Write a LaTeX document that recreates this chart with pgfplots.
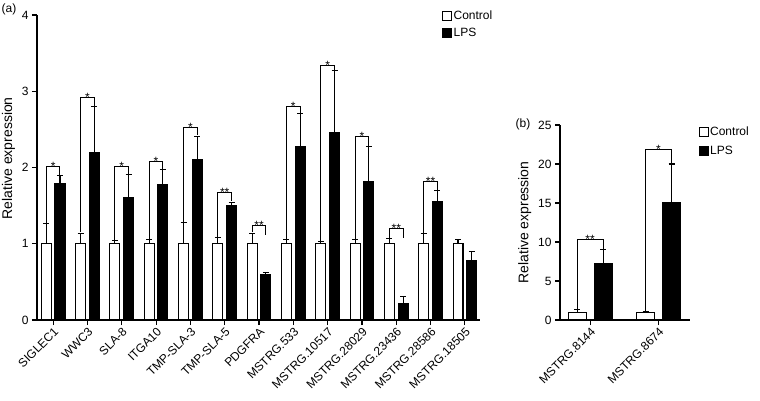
\documentclass[border=0pt]{standalone}
\usepackage{pgfplots}
\pgfplotsset{compat=1.18}
\usepackage{pgfplotstable}
\usepackage{fontspec}
\setmainfont{Liberation Sans}
\pgfplotstableread{
x c ce l le
0 1 0.26 1.79 0.10
1 1 0.14 2.19 0.61
2 1 0.04 1.60 0.31
3 1 0.05 1.77 0.20
4 1 0.28 2.11 0.30
5 1 0.08 1.50 0.04
6 1 0.14 0.59 0.03
7 1 0.05 2.27 0.44
8 1 0.03 2.46 0.81
9 1 0.05 1.82 0.45
10 1 0.07 0.21 0.10
11 1 0.13 1.55 0.15
12 1 0.06 0.78 0.12
}\lefttab
\pgfplotstableread{
x c ce l le
0 1 0.30 7.20 1.80
1 1 0.10 15.05 4.95
}\righttab
\tikzset{st/.style={anchor=base, yshift=-4pt, font=\fontsize{12}{14}\selectfont, inner sep=0pt}}
\pgfplotsset{
  mystyle/.style={
    scale only axis,
    axis x line*=bottom, axis y line*=left,
    axis line style={line width=1.1pt,-},
    tick align=outside,
    major tick length=5pt,
    every tick/.style={black, line width=1.1pt},
    ticklabel style={font=\fontsize{12}{14}\selectfont},
    xticklabel style={rotate=45, anchor=north east, inner sep=1pt},
    ylabel style={font=\fontsize{14}{16}\selectfont},
    ylabel={Relative expression},
    /pgf/number format/assume math mode=true,
    clip=false,
    legend style={draw=none, fill=none, anchor=north west, inner sep=0pt,
      row sep=5pt, font=\fontsize{12}{14}\selectfont,
      nodes={inner sep=1.5pt},
      /tikz/every even column/.style={column sep=4pt}},
    legend cell align=left,
    legend image code/.code={\draw[#1, line width=1pt] (0pt,-4.5pt) rectangle (9pt,4.5pt);},
  },
  myerr/.style={
    error bars/y dir=plus, error bars/y explicit,
    error bars/error bar style={line width=1.1pt},
    error bars/error mark options={rotate=90, mark size=3pt, line width=1.1pt}},
  cbar/.style={ybar, bar shift=0pt, fill=white, draw=black, line width=1.1pt, myerr},
  lbar/.style={ybar, bar shift=0pt, fill=black, draw=black, line width=1.1pt, myerr},
  brk/.style={black, line width=1pt},
}
\begin{document}
\begin{tikzpicture}[x=1pt,y=1pt]
\path[use as bounding box] (0,0) rectangle (760,400);
\node[font=\fontsize{12}{14}\selectfont] at (9,391) {(a)};
\node[font=\fontsize{12}{14}\selectfont] at (523,276) {(b)};
\begin{axis}[mystyle,
  at={(37pt,80pt)}, anchor=south west,
  width=443pt, height=305pt,
  xmin=-0.47, xmax=12.44, ymin=0, ymax=4,
  ytick={0,1,2,3,4},
  xtick={0,...,12},
  xticklabels={SIGLEC1,WWC3,SLA-8,ITGA10,TMP-SLA-3,TMP-SLA-5,PDGFRA,MSTRG.533,MSTRG.10517,MSTRG.28029,MSTRG.23436,MSTRG.28586,MSTRG.18505},
  ylabel style={at={(ticklabel cs:0.53)}},
  legend style={at={(rel axis cs:0.914,1.018)}, row sep=4pt},
]
\addplot[cbar, bar width=0.29] table[x expr=\thisrow{x}-0.2, y=c, y error=ce] {\lefttab};
\addplot[lbar, bar width=0.29] table[x expr=\thisrow{x}+0.2, y=l, y error=le] {\lefttab};
\legend{Control,LPS}
\addplot[brk] coordinates {(-0.2,1.27) (-0.2,2.01) (0.2,2.01) (0.2,1.90)};
\addplot[brk] coordinates {(0.8,1.15) (0.8,2.92) (1.2,2.92) (1.2,2.81)};
\addplot[brk] coordinates {(1.8,1.05) (1.8,2.01) (2.2,2.01) (2.2,1.92)};
\addplot[brk] coordinates {(2.8,1.06) (2.8,2.08) (3.2,2.08) (3.2,1.98)};
\addplot[brk] coordinates {(3.8,1.29) (3.8,2.53) (4.2,2.53) (4.2,2.42)};
\addplot[brk] coordinates {(4.8,1.09) (4.8,1.67) (5.2,1.67) (5.2,1.56)};
\addplot[brk] coordinates {(5.8,1.15) (5.8,1.24) (6.2,1.24) (6.2,1.11)};
\addplot[brk] coordinates {(6.8,1.06) (6.8,2.80) (7.2,2.80) (7.2,2.72)};
\addplot[brk] coordinates {(7.8,1.04) (7.8,3.34) (8.2,3.34) (8.2,3.28)};
\addplot[brk] coordinates {(8.8,1.06) (8.8,2.41) (9.2,2.41) (9.2,2.28)};
\addplot[brk] coordinates {(9.8,1.08) (9.8,1.20) (10.2,1.20) (10.2,1.08)};
\addplot[brk] coordinates {(10.8,1.14) (10.8,1.81) (11.2,1.81) (11.2,1.71)};
\node[st] at (axis cs:0,2.01) {*};
\node[st] at (axis cs:1,2.92) {*};
\node[st] at (axis cs:2,2.01) {*};
\node[st] at (axis cs:3,2.08) {*};
\node[st] at (axis cs:4,2.53) {*};
\node[st] at (axis cs:5,1.67) {**};
\node[st] at (axis cs:6,1.24) {**};
\node[st] at (axis cs:7,2.80) {*};
\node[st] at (axis cs:8,3.34) {*};
\node[st] at (axis cs:9,2.41) {*};
\node[st] at (axis cs:10,1.20) {**};
\node[st] at (axis cs:11,1.81) {**};
\end{axis}
\begin{axis}[mystyle,
  at={(560pt,80pt)}, anchor=south west,
  width=130pt, height=195pt,
  xmin=-0.44, xmax=1.46, ymin=0, ymax=25,
  ytick={0,5,10,15,20,25},
  xtick={0,1},
  xticklabels={MSTRG.8144,MSTRG.8674},
  legend style={at={(rel axis cs:1.065,1.0)}, row sep=6pt},
]
\addplot[cbar, bar width=0.263] table[x expr=\thisrow{x}-0.19, y=c, y error=ce] {\righttab};
\addplot[lbar, bar width=0.263] table[x expr=\thisrow{x}+0.19, y=l, y error=le] {\righttab};
\legend{Control,LPS}
\addplot[brk] coordinates {(-0.19,1.4) (-0.19,10.3) (0.19,10.3) (0.19,9.1)};
\addplot[brk] coordinates {(0.81,1.2) (0.81,21.9) (1.19,21.9) (1.19,20.1)};
\node[st] at (axis cs:0,10.3) {**};
\node[st] at (axis cs:1,21.9) {*};
\end{axis}
\end{tikzpicture}
\end{document}
